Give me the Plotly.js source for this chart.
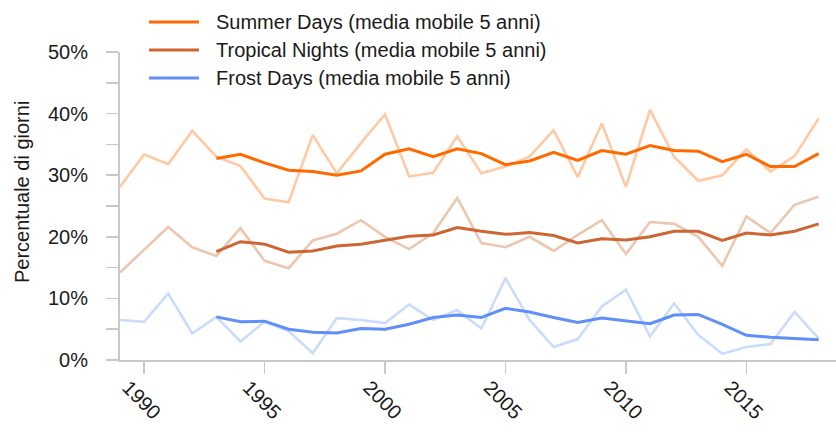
<!DOCTYPE html>
<html>
<head>
<meta charset="utf-8">
<script src="https://cdn.plot.ly/plotly-3.0.1.min.js"></script>
<style>html,body{margin:0;padding:0;background:#fff;}#chart{width:836px;height:435px;}</style>
</head>
<body>
<div id="chart"></div>
<script>
// ---- data ----
var years = [1989,1990,1991,1992,1993,1994,1995,1996,1997,1998,1999,2000,2001,2002,2003,2004,2005,2006,2007,2008,2009,2010,2011,2012,2013,2014,2015,2016,2017,2018];
var maYears = [1993,1994,1995,1996,1997,1998,1999,2000,2001,2002,2003,2004,2005,2006,2007,2008,2009,2010,2011,2012,2013,2014,2015,2016,2017,2018];

var summerRaw = [28.1,33.4,31.8,37.2,33.0,31.5,26.2,25.6,36.5,30.3,35.2,39.9,29.8,30.4,36.3,30.3,31.4,33.0,37.3,29.7,38.4,28.1,40.6,33.0,29.1,30.0,34.2,30.6,33.1,39.2];
var summerMA = [32.7,33.4,32.0,30.8,30.6,30.0,30.7,33.4,34.3,33.0,34.3,33.5,31.7,32.3,33.7,32.4,34.0,33.4,34.8,34.0,33.9,32.2,33.4,31.4,31.4,33.5];

var tropicalRaw = [14.2,17.9,21.6,18.3,16.9,21.4,16.1,14.9,19.4,20.5,22.7,20.0,18.0,20.6,26.3,19.0,18.3,20.0,17.7,20.3,22.7,17.2,22.4,22.1,20.0,15.3,23.3,20.6,25.2,26.5];
var tropicalMA = [17.6,19.2,18.8,17.5,17.7,18.5,18.8,19.5,20.1,20.3,21.5,20.9,20.4,20.7,20.2,19.0,19.7,19.5,20.0,20.9,20.9,19.4,20.6,20.3,20.9,22.1];

var frostRaw = [6.5,6.2,10.8,4.3,7.0,3.0,6.2,4.7,1.1,6.8,6.5,6.0,9.0,6.5,8.1,5.1,13.3,6.5,2.1,3.4,8.7,11.4,3.8,9.2,4.1,1.0,2.1,2.6,7.8,3.5];
var frostMA = [7.0,6.2,6.3,5.0,4.5,4.4,5.1,5.0,5.8,6.9,7.3,6.9,8.4,7.8,6.9,6.1,6.8,6.4,5.9,7.3,7.4,5.8,4.0,3.7,3.5,3.3];

var seriesNames = ["Summer Days (media mobile 5 anni)","Tropical Nights (media mobile 5 anni)","Frost Days (media mobile 5 anni)"];
var yTitle = "Percentuale di giorni";

// ---- styles ----
var maColors = ["#ff6a00","#cc6633","#5f8ff7"];
var rawColors = ["#ffc9a3","#ebc7b0","#cadcfd"];
var FONT = "Arial, 'Liberation Sans', sans-serif";
var axisGray = "#c8c8c8";
var TXT = "#1a1a1a";

var rawSets = [summerRaw, tropicalRaw, frostRaw];
var maSets = [summerMA, tropicalMA, frostMA];
var traces = [];
rawSets.forEach(function(d,i){
  traces.push({x: years, y: d, type:'scatter', mode:'lines', showlegend:false, hoverinfo:'skip',
    line:{color: rawColors[i], width:2.6}});
});
maSets.forEach(function(d,i){
  traces.push({x: maYears, y: d, type:'scatter', mode:'lines', name: seriesNames[i], showlegend:false,
    line:{color: maColors[i], width:3}});
});

// custom legend + axis title (layout elements in paper coordinates)
var shapes = [], annotations = [];
var legRowsPx = [22, 50, 78];
function py(px){ return (360 - px) / 308; }
function pxX(px){ return (px - 120) / 716; }
seriesNames.forEach(function(n,i){
  shapes.push({type:'line', xref:'paper', yref:'paper', x0:pxX(149), x1:pxX(199), y0:py(legRowsPx[i]), y1:py(legRowsPx[i]),
    line:{color: maColors[i], width:3}});
  annotations.push({xref:'paper', yref:'paper', x:pxX(214), y:py(legRowsPx[i]), xanchor:'left', yanchor:'middle',
    text:n, showarrow:false, font:{family:FONT, size:20, color:TXT}});
});
annotations.push({xref:'paper', yref:'paper', x:pxX(22), y:py(192), xanchor:'center', yanchor:'middle',
  text:yTitle, textangle:-90, showarrow:false, font:{family:FONT, size:20, color:TXT}});

var layout = {
  width: 836, height: 435,
  margin: {l:120, r:0, t:52, b:75, pad:0},
  paper_bgcolor:'#ffffff', plot_bgcolor:'#ffffff',
  font: {family: FONT, size: 20, color:TXT},
  showlegend: false,
  xaxis: {
    range:[1989, 2018.72], tick0:1990, dtick:5, tickmode:'linear',
    showgrid:false, zeroline:false, showline:true, linecolor:axisGray, linewidth:2,
    ticks:'outside', ticklen:12, tickwidth:1.5, tickcolor:axisGray, tickangle:45,
    ticklabelshift:-16, ticklabelstandoff:-6,
    tickfont:{family:FONT, size:20, color:TXT}, automargin:false
  },
  yaxis: {
    range:[0, 50], tick0:0, dtick:10, tickmode:'linear', ticksuffix:'%',
    showgrid:false, zeroline:false, showline:true, linecolor:axisGray, linewidth:2,
    ticks:'outside', ticklen:12, tickwidth:1.5, tickcolor:axisGray,
    minor:{dtick:5, ticks:'outside', ticklen:12, tickwidth:1.5, tickcolor:axisGray, showgrid:false},
    tickfont:{family:FONT, size:20, color:TXT}, ticklabelstandoff:14,
    automargin:false
  },
  shapes: shapes,
  annotations: annotations
};

Plotly.newPlot('chart', traces, layout, {displayModeBar:false, staticPlot:true});
</script>
</body>
</html>
